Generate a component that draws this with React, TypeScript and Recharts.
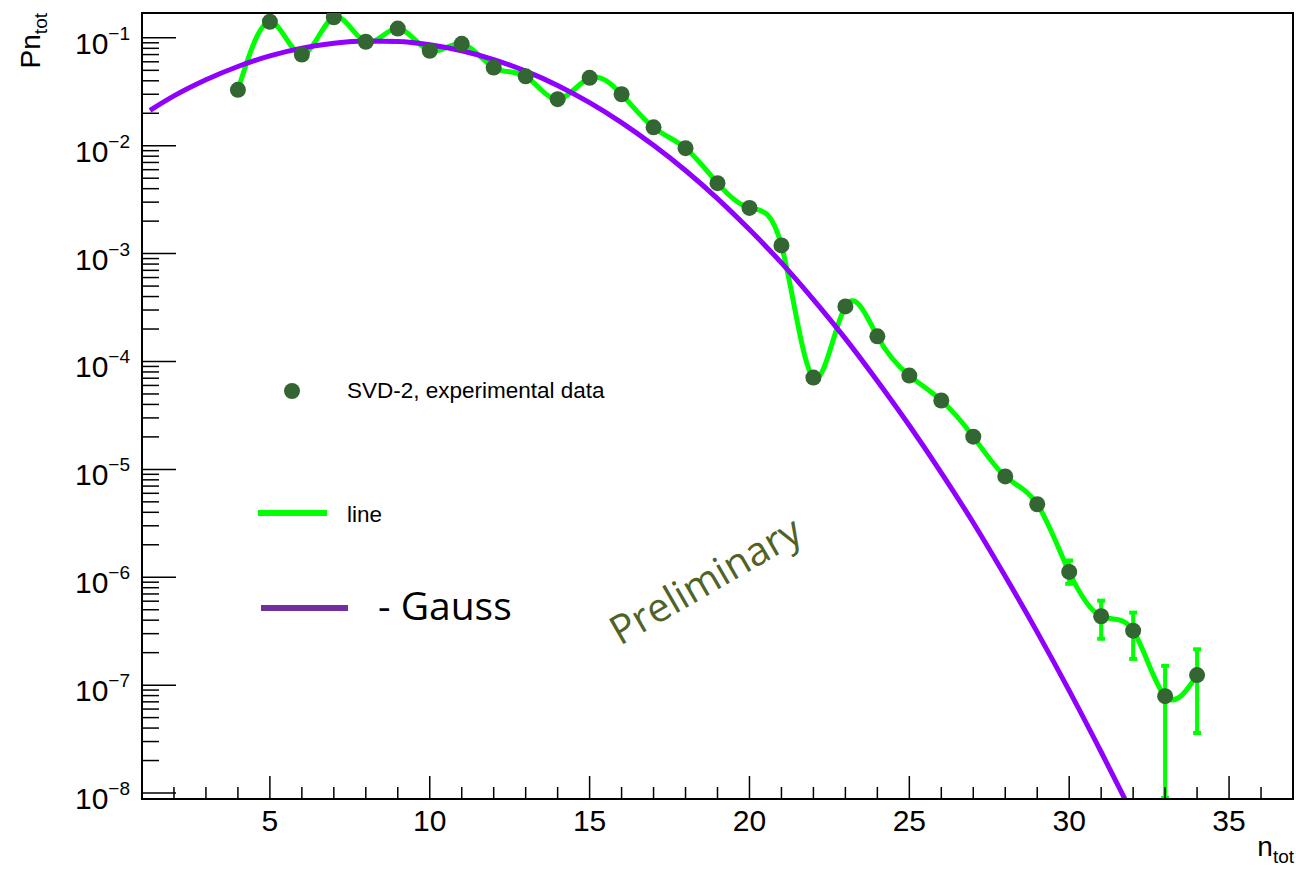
import { ComposedChart, Line, XAxis, YAxis, ErrorBar, ReferenceArea } from 'recharts';

// measured points (n_tot, P)
const nValues = [4, 5, 6, 7, 8, 9, 10, 11, 12, 13, 14, 15, 16, 17, 18, 19, 20, 21, 22, 23, 24, 25, 26, 27, 28, 29, 30, 31, 32, 33, 34];
const probValues = [
  0.033, 0.141, 0.07, 0.155, 0.092, 0.122, 0.076, 0.088, 0.053, 0.044, 0.027, 0.0426, 0.03, 0.0148, 0.0095, 0.0045,
  0.00265, 0.00119, 7.1e-5, 3.24e-4, 1.71e-4, 7.4e-5, 4.35e-5, 2.01e-5, 8.6e-6, 4.75e-6, 1.12e-6, 4.35e-7, 3.2e-7,
  7.9e-8, 1.24e-7,
];
// only the tail has error bars that show outside the markers
const errLow = [
  0, 0, 0, 0, 0, 0, 0, 0, 0, 0, 0, 0, 0, 0, 0, 0, 0, 0, 0, 0, 0, 0, 0, 0, 0, 0, 2.5e-7, 1.66e-7, 1.45e-7, 7.0e-8, 8.8e-8,
];
const errHigh = [
  0, 0, 0, 0, 0, 0, 0, 0, 0, 0, 0, 0, 0, 0, 0, 0, 0, 0, 0, 0, 0, 0, 0, 0, 0, 0, 3.1e-7, 1.72e-7, 1.5e-7, 7.2e-8, 9.1e-8,
];

// Gauss curve
const gaussN = [1.25, 2, 3, 4, 5, 6, 7, 8, 9, 10, 11, 12, 13, 14, 15, 16, 17, 18, 19, 20, 21, 22, 23, 24, 25, 26, 27, 28, 29, 30, 31, 32];
const gaussValues = [
  0.0213, 0.029, 0.0409, 0.0543, 0.068, 0.0803, 0.0893, 0.0937, 0.0927, 0.0864, 0.0759, 0.0629, 0.0491, 0.0362, 0.0251,
  0.0164, 0.0101, 0.0059, 0.00324, 0.00167, 8.2e-4, 3.75e-4, 1.63e-4, 6.6e-5, 2.55e-5, 9.3e-6, 3.2e-6, 1.02e-6, 3.1e-7,
  8.9e-8, 2.4e-8, 6.2e-9,
];

const xTicks = [2, 3, 4, 5, 6, 7, 8, 9, 10, 11, 12, 13, 14, 15, 16, 17, 18, 19, 20, 21, 22, 23, 24, 25, 26, 27, 28, 29, 30, 31, 32, 33, 34, 35, 36];
const decadeExps = [-8, -7, -6, -5, -4, -3, -2, -1];
const minorSteps = [2, 3, 4, 5, 6, 7, 8, 9];

const X_MIN = 1;
const X_MAX = 37;
const Y_MIN = 8.8e-9;
const Y_MAX = 0.17;

const FONT = '"Liberation Sans", Arial, Helvetica, sans-serif';
const SLIDE_FONT = '"Open Sans", "Noto Sans", sans-serif';

const points = nValues.map((n, i) => ({ n, p: probValues[i], err: [errLow[i], errHigh[i]] }));
const gauss = gaussN.map((n, i) => ({ n, g: gaussValues[i] }));

const yTicks: number[] = [];
decadeExps.forEach((e) => {
  yTicks.push(Math.pow(10, e));
  minorSteps.forEach((m) => {
    const v = m * Math.pow(10, e);
    if (v < Y_MAX) yTicks.push(v);
  });
});

const XTick = (props: any) => {
  const { x, y, payload } = props;
  const major = payload.value % 5 === 0;
  return (
    <g>
      <line x1={x} x2={x} y1={y} y2={y - (major ? 23 : 12)} stroke="#000" strokeWidth={1.5} />
      {major && (
        <text x={x} y={y + 32} textAnchor="middle" fontSize={30} fontFamily={FONT} fill="#000">
          {payload.value}
        </text>
      )}
    </g>
  );
};

const YTick = (props: any) => {
  const { x, y, payload } = props;
  const v = payload.value;
  const e = Math.round(Math.log10(v));
  const major = Math.abs(v - Math.pow(10, e)) < v * 1e-6;
  return (
    <g>
      <line x1={x} x2={x + (major ? 34 : 17)} y1={y} y2={y} stroke="#000" strokeWidth={1.5} />
      {major && (
        <text x={x - 12} y={y + 16} textAnchor="end" fontSize={30} fontFamily={FONT} fill="#000">
          10
          <tspan dy={-14} fontSize={19}>
            {'\u2212' + -e}
          </tspan>
        </text>
      )}
    </g>
  );
};

export default function App() {
  return (
    <div style={{ position: 'absolute', left: 0, top: 0, width: 1296, height: 871, background: '#fff' }}>
      <ComposedChart width={1296} height={871} margin={{ top: 13, right: 3, bottom: 0, left: 0 }}>
        <XAxis
          type="number"
          dataKey="n"
          domain={[X_MIN, X_MAX]}
          allowDataOverflow
          ticks={xTicks}
          interval={0}
          height={72}
          tickSize={0}
          tickMargin={0}
          tickLine={false}
          tick={<XTick />}
          axisLine={{ stroke: '#000', strokeWidth: 2 }}
        />
        <YAxis
          type="number"
          scale="log"
          domain={[Y_MIN, Y_MAX]}
          allowDataOverflow
          ticks={yTicks}
          interval={0}
          width={142}
          tickSize={0}
          tickMargin={0}
          tickLine={false}
          tick={<YTick />}
          axisLine={{ stroke: '#000', strokeWidth: 2 }}
        />
        <ReferenceArea
          x1={X_MIN}
          x2={X_MAX}
          y1={Y_MIN}
          y2={Y_MAX}
          fill="none"
          stroke="#000"
          strokeWidth={2}
          ifOverflow="visible"
        />
        <Line
          data={points}
          dataKey="p"
          type="natural"
          stroke="#00ff00"
          strokeWidth={5}
          dot={false}
          activeDot={false}
          isAnimationActive={false}
        >
          <ErrorBar dataKey="err" width={4} stroke="#00ff00" strokeWidth={4} direction="y" isAnimationActive={false} />
        </Line>
        <Line
          data={gauss}
          dataKey="g"
          type="monotone"
          stroke="#8f00ff"
          strokeWidth={5}
          dot={false}
          activeDot={false}
          isAnimationActive={false}
        />
        <Line
          data={points}
          dataKey="p"
          stroke="none"
          strokeWidth={0}
          dot={{ r: 8, fill: '#336633', stroke: 'none' }}
          activeDot={false}
          isAnimationActive={false}
        />
      </ComposedChart>

      <svg
        width={1296}
        height={871}
        style={{ position: 'absolute', left: 0, top: 0, pointerEvents: 'none' }}
      >
        {/* axis titles */}
        <text transform="translate(40,13) rotate(-90)" textAnchor="end" fontSize={28} fontFamily={FONT} fill="#000">
          Pn
          <tspan dy={7} fontSize={19}>
            tot
          </tspan>
        </text>
        <text x={1294} y={856} textAnchor="end" fontSize={28} fontFamily={FONT} fill="#000">
          n
          <tspan dy={7} fontSize={19}>
            tot
          </tspan>
        </text>

        {/* legend */}
        <circle cx={292} cy={391} r={8} fill="#336633" />
        <text x={347} y={398} fontSize={22.5} fontFamily={FONT} fill="#000">
          SVD-2, experimental data
        </text>
        <line x1={258} x2={327} y1={513} y2={513} stroke="#00ff00" strokeWidth={6} />
        <text x={347} y={522} fontSize={22.5} fontFamily={FONT} fill="#000">
          line
        </text>
        <line x1={261} x2={348} y1={608} y2={608} stroke="#7030a0" strokeWidth={6} />
        <text x={378} y={620} fontSize={39} fontFamily={SLIDE_FONT} fill="#000">
          - Gauss
        </text>

        <text transform="translate(620,646) rotate(-30)" fontSize={40} fontFamily={SLIDE_FONT} fill="#4f6228">
          Preliminary
        </text>
      </svg>
    </div>
  );
}
